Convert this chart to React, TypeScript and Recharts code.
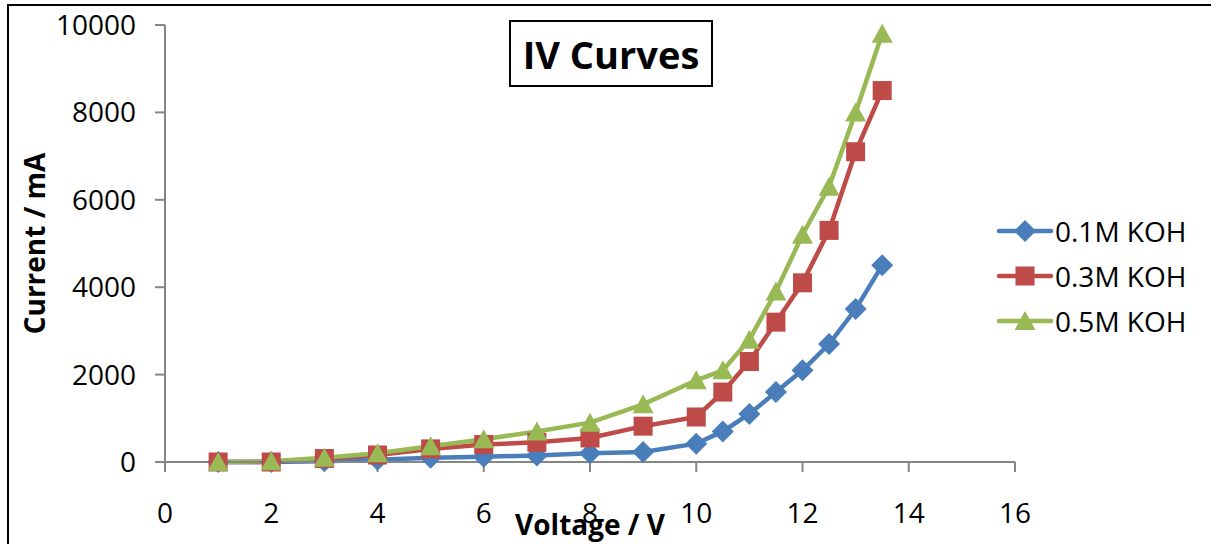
import { LineChart, Line, XAxis, YAxis } from 'recharts'

const voltage = [1, 2, 3, 4, 5, 6, 7, 8, 9, 10, 10.5, 11, 11.5, 12, 12.5, 13, 13.5]
const koh01 = [0, 0, 20, 50, 100, 120, 150, 200, 230, 420, 700, 1100, 1600, 2100, 2700, 3500, 4500]
const koh03 = [0, 0, 80, 160, 300, 400, 450, 550, 820, 1030, 1600, 2300, 3200, 4100, 5300, 7100, 8500]
const koh05 = [0, 20, 100, 200, 360, 520, 700, 900, 1320, 1870, 2100, 2800, 3900, 5200, 6300, 8000, 9800]

const seriesKeys = ['koh01', 'koh03', 'koh05']
const seriesNames = ['0.1M KOH', '0.3M KOH', '0.5M KOH']
const seriesColors = ['#4A7EBB', '#BE4B48', '#98B954']
const seriesShapes = ['diamond', 'square', 'triangle']

const xTicks = [0, 2, 4, 6, 8, 10, 12, 14, 16]
const yTicks = [0, 2000, 4000, 6000, 8000, 10000]

const rows = voltage.map((v, i) => ({ v, koh01: koh01[i], koh03: koh03[i], koh05: koh05[i] }))

const FONT = '"Open Sans", "DejaVu Sans", sans-serif'
const AXIS = '#868686'

function Marker({ shape, cx, cy, color }: { shape: string; cx: number; cy: number; color: string }) {
  if (shape === 'diamond') {
    return <polygon points={`${cx},${cy - 11} ${cx + 11},${cy} ${cx},${cy + 11} ${cx - 11},${cy}`} fill={color} />
  }
  if (shape === 'square') {
    return <rect x={cx - 9.5} y={cy - 9.5} width={19} height={19} fill={color} />
  }
  return <polygon points={`${cx},${cy - 10} ${cx + 10.5},${cy + 9} ${cx - 10.5},${cy + 9}`} fill={color} />
}

export default function App() {
  return (
    <div style={{ position: 'absolute', left: 0, top: 0, width: 1211, height: 544, overflow: 'hidden', background: '#fff', fontFamily: FONT }}>
      {/* outer frame (only left and top edges visible) */}
      <div style={{ position: 'absolute', left: 7, top: 4, width: 1300, height: 700, borderLeft: '2px solid #000', borderTop: '2px solid #000' }} />

      <div style={{ position: 'absolute', left: 0, top: 0 }}>
        <LineChart width={1211} height={544} data={rows} margin={{ top: 25, right: 196, bottom: 0, left: 0 }}>
          <XAxis
            dataKey="v"
            type="number"
            domain={[0, 16]}
            ticks={xTicks}
            interval={0}
            height={82}
            stroke={AXIS}
            strokeWidth={2}
            tickSize={10}
            tickMargin={31}
            tick={{ fill: '#000', fontSize: 28, fontFamily: FONT }}
            label={{
              value: 'Voltage / V',
              position: 'insideBottom',
              offset: 9,
              style: { fontSize: 28, fontWeight: 700, fill: '#000', fontFamily: FONT },
            }}
          />
          <YAxis
            type="number"
            domain={[0, 10000]}
            ticks={yTicks}
            interval={0}
            width={165}
            stroke={AXIS}
            strokeWidth={2}
            tickSize={10}
            tickMargin={19}
            tick={{ fill: '#000', fontSize: 28, fontFamily: FONT }}
            label={{
              value: 'Current / mA',
              angle: -90,
              position: 'insideLeft',
              offset: 35,
              style: { textAnchor: 'middle', fontSize: 28, fontWeight: 700, fill: '#000', fontFamily: FONT },
            }}
          />
          {seriesKeys.map((k, i) => (
            <Line
              key={k}
              dataKey={k}
              name={seriesNames[i]}
              type="linear"
              stroke={seriesColors[i]}
              strokeWidth={4.5}
              isAnimationActive={false}
              dot={(p: any) => (
                <Marker key={`${k}-${p.index}`} shape={seriesShapes[i]} cx={p.cx} cy={p.cy} color={seriesColors[i]} />
              )}
              activeDot={false}
            />
          ))}
        </LineChart>
      </div>

      {/* Title box */}
      <div
        style={{
          position: 'absolute',
          left: 509,
          top: 20,
          width: 200,
          height: 63,
          border: '2px solid #000',
          display: 'flex',
          alignItems: 'center',
          justifyContent: 'center',
          fontSize: 38,
          fontWeight: 700,
          color: '#000',
        }}
      >
        IV Curves
      </div>

      {/* Legend */}
      {seriesNames.map((name, i) => (
        <div key={name} style={{ position: 'absolute', left: 995, top: 231 + i * 45 - 20, height: 40, display: 'flex', alignItems: 'center' }}>
          <svg width={60} height={26}>
            <line x1={4} y1={13} x2={56} y2={13} stroke={seriesColors[i]} strokeWidth={4.5} strokeLinecap="round" />
            <Marker shape={seriesShapes[i]} cx={30} cy={13} color={seriesColors[i]} />
          </svg>
          <span style={{ fontSize: 28, color: '#000', marginLeft: 0, lineHeight: '40px' }}>{name}</span>
        </div>
      ))}
    </div>
  )
}
